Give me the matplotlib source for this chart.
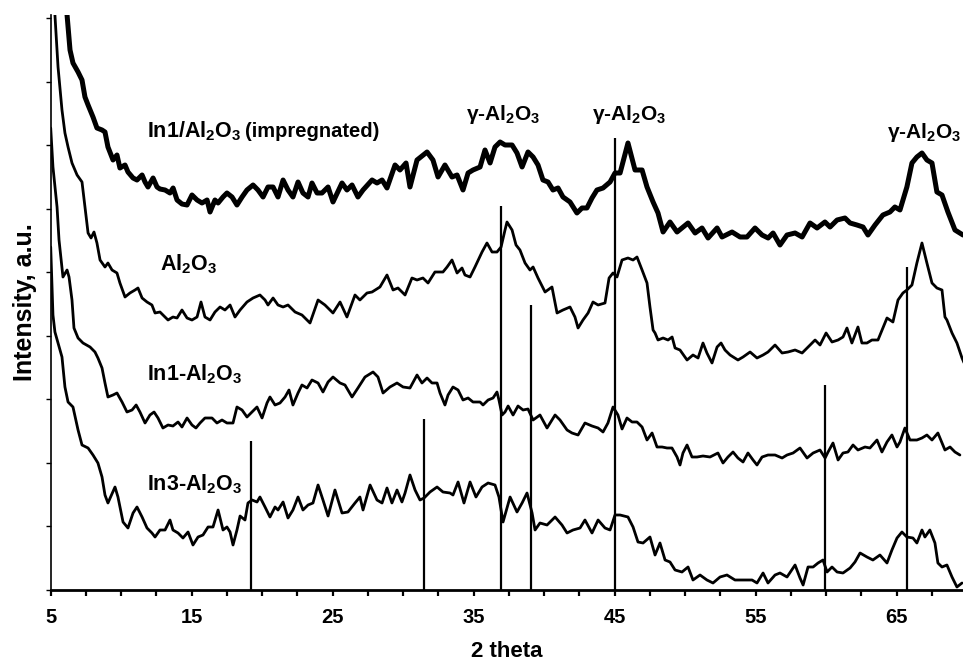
import numpy as np
import matplotlib
matplotlib.use("Agg")
import matplotlib.pyplot as plt

plt.rcParams['font.family'] = ['Liberation Sans', 'DejaVu Sans']
plt.rcParams['font.weight'] = 'bold'
plt.rcParams['mathtext.fontset'] = 'custom'
plt.rcParams['mathtext.rm'] = 'Liberation Sans:bold'
plt.rcParams['mathtext.bf'] = 'Liberation Sans:bold'
plt.rcParams['mathtext.it'] = 'Liberation Sans:bold'
plt.rcParams['mathtext.default'] = 'rm'

# XRD patterns, (2 theta, intensity a.u.) with the stacking offsets included
impregnated = [
    (6.00, 650), (6.16, 575), (6.37, 540), (6.58, 527), (6.94, 518), (7.22, 510),
    (7.43, 493), (7.65, 485), (8.00, 473), (8.28, 462), (8.64, 460), (8.85, 458),
    (9.06, 443), (9.42, 430), (9.70, 435), (9.91, 422), (10.27, 425), (10.48, 418),
    (10.84, 412), (11.12, 410), (11.48, 415), (11.69, 408), (11.90, 403), (12.26, 412),
    (12.54, 403), (12.75, 401), (13.11, 400), (13.46, 397), (13.68, 402), (13.96, 390),
    (14.31, 386), (14.67, 385), (15.02, 395), (15.38, 390), (15.73, 387), (16.09, 390),
    (16.30, 378), (16.65, 390), (16.87, 387), (17.22, 393), (17.50, 397), (17.86, 393),
    (18.21, 385), (18.57, 393), (18.92, 400), (19.35, 405), (19.70, 400), (20.06, 393),
    (20.41, 403), (20.77, 403), (21.12, 393), (21.48, 410), (21.83, 400), (22.18, 393),
    (22.54, 408), (22.89, 397), (23.25, 393), (23.53, 407), (23.89, 397), (24.24, 397),
    (24.67, 403), (25.02, 388), (25.66, 407), (26.01, 400), (26.37, 405), (26.79, 393),
    (27.15, 400), (27.79, 410), (28.14, 407), (28.50, 410), (28.85, 402), (29.42, 425),
    (29.77, 420), (30.20, 427), (30.48, 403), (30.98, 430), (31.69, 438), (32.11, 430),
    (32.47, 413), (32.96, 425), (33.46, 413), (33.82, 415), (34.24, 400), (34.60, 417),
    (34.95, 420), (35.45, 423), (35.80, 440), (36.16, 427), (36.51, 443), (36.87, 448),
    (37.22, 445), (37.72, 445), (38.07, 437), (38.43, 423), (38.85, 438), (39.21, 433),
    (39.56, 425), (39.91, 410), (40.27, 408), (40.62, 400), (40.98, 402), (41.33, 393),
    (41.83, 388), (42.32, 377), (42.68, 382), (43.03, 382), (43.39, 392), (43.74, 400),
    (44.17, 402), (44.67, 408), (45.02, 417), (45.38, 417), (45.94, 447), (46.44, 420),
    (46.94, 420), (47.29, 403), (47.72, 388), (48.07, 377), (48.43, 358), (48.92, 368),
    (49.42, 358), (50.20, 367), (50.70, 357), (51.19, 362), (51.62, 352), (52.26, 362),
    (52.61, 353), (53.32, 358), (53.89, 353), (54.38, 353), (54.95, 362), (55.45, 355),
    (55.88, 352), (56.23, 357), (56.72, 345), (57.22, 355), (57.79, 357), (58.29, 353),
    (58.85, 367), (59.35, 362), (59.91, 368), (60.27, 363), (60.77, 370), (61.33, 372),
    (61.69, 367), (62.18, 365), (62.61, 363), (62.96, 355), (63.46, 365), (64.02, 375),
    (64.52, 378), (64.87, 383), (65.23, 380), (65.72, 403), (66.08, 427), (66.43, 433),
    (66.79, 437), (67.14, 430), (67.50, 427), (67.85, 398), (68.21, 395), (68.63, 378),
    (69.13, 360), (69.48, 357), (69.70, 355),
]

alumina = [
    (5.15, 700), (5.30, 575), (5.52, 523), (5.80, 480), (6.01, 457), (6.23, 443),
    (6.51, 427), (6.87, 415), (7.22, 408), (7.43, 383), (7.65, 357), (7.86, 352),
    (8.07, 358), (8.28, 347), (8.50, 330), (8.85, 323), (9.06, 327), (9.35, 320),
    (9.70, 317), (9.91, 307), (10.27, 293), (10.62, 297), (10.98, 300), (11.19, 302),
    (11.48, 292), (11.83, 288), (12.18, 285), (12.40, 277), (12.75, 278), (12.96, 275),
    (13.32, 270), (13.67, 273), (13.96, 272), (14.31, 280), (14.67, 272), (15.02, 270),
    (15.38, 273), (15.66, 288), (15.94, 273), (16.30, 270), (16.65, 278), (17.01, 283),
    (17.36, 280), (17.72, 285), (18.07, 273), (18.43, 280), (18.92, 288), (19.35, 292),
    (19.84, 295), (20.20, 290), (20.41, 285), (20.77, 292), (21.12, 285), (21.48, 283),
    (21.83, 285), (22.33, 278), (22.82, 275), (23.39, 267), (23.96, 290), (24.45, 285),
    (25.02, 277), (25.52, 288), (26.01, 273), (26.58, 295), (26.93, 290), (27.43, 297),
    (27.79, 298), (28.35, 303), (28.85, 315), (29.28, 300), (29.63, 302), (30.13, 295),
    (30.62, 312), (30.98, 310), (31.40, 312), (31.76, 307), (32.25, 318), (32.82, 318),
    (33.11, 323), (33.46, 330), (33.82, 317), (34.17, 322), (34.38, 315), (34.74, 313),
    (35.09, 323), (35.59, 338), (35.94, 347), (36.30, 338), (36.65, 338), (36.94, 343),
    (37.22, 360), (37.36, 368), (37.72, 360), (38.00, 345), (38.28, 340), (38.64, 327),
    (38.99, 320), (39.21, 323), (39.56, 312), (40.06, 298), (40.55, 303), (40.91, 277),
    (41.33, 280), (41.83, 283), (42.18, 273), (42.40, 262), (42.75, 270), (43.11, 277),
    (43.46, 288), (43.82, 285), (44.31, 287), (44.60, 312), (44.88, 317), (45.16, 313),
    (45.52, 330), (45.94, 332), (46.30, 330), (46.58, 333), (46.94, 320), (47.29, 307),
    (47.50, 283), (47.72, 260), (47.86, 257), (48.07, 250), (48.43, 252), (48.78, 250),
    (49.07, 253), (49.28, 242), (49.63, 240), (50.13, 230), (50.55, 235), (50.91, 232),
    (51.26, 247), (51.54, 237), (51.90, 227), (52.26, 243), (52.54, 247), (52.82, 240),
    (53.18, 235), (53.74, 230), (54.10, 233), (54.60, 238), (55.09, 232), (55.52, 235),
    (55.87, 238), (56.37, 245), (56.87, 237), (57.29, 238), (57.79, 240), (58.29, 237),
    (58.71, 243), (59.21, 250), (59.56, 245), (59.99, 257), (60.41, 248), (60.84, 250),
    (61.19, 253), (61.47, 262), (61.82, 247), (62.25, 263), (62.53, 247), (62.89, 247),
    (63.24, 250), (63.67, 250), (64.02, 262), (64.31, 272), (64.73, 268), (65.09, 290),
    (65.44, 297), (65.72, 300), (66.08, 305), (66.43, 327), (66.79, 347), (67.14, 327),
    (67.50, 307), (67.85, 302), (68.21, 300), (68.42, 273), (68.56, 270), (68.92, 257),
    (69.27, 247), (69.63, 232), (69.84, 225),
]

in1 = [
    (5.00, 462), (5.16, 423), (5.45, 383), (5.59, 350), (5.80, 323), (5.87, 313),
    (6.16, 320), (6.30, 313), (6.51, 290), (6.65, 262), (6.94, 252), (7.29, 247),
    (7.79, 243), (8.14, 238), (8.35, 232), (8.64, 222), (8.85, 207), (9.06, 193),
    (9.42, 195), (9.70, 197), (10.06, 188), (10.41, 178), (10.77, 180), (11.06, 185),
    (11.33, 178), (11.69, 167), (12.04, 175), (12.33, 178), (12.61, 172), (12.96, 162),
    (13.32, 165), (13.67, 164), (14.03, 168), (14.31, 163), (14.67, 172), (15.02, 165),
    (15.30, 162), (15.59, 167), (15.94, 172), (16.44, 172), (16.79, 167), (17.15, 170),
    (17.50, 167), (17.93, 167), (18.21, 183), (18.57, 180), (18.92, 173), (19.28, 178),
    (19.63, 183), (19.99, 172), (20.34, 187), (20.55, 193), (20.91, 185), (21.26, 187),
    (21.62, 193), (21.90, 200), (22.18, 185), (22.54, 197), (22.82, 205), (23.18, 202),
    (23.53, 210), (23.96, 207), (24.31, 198), (24.67, 208), (25.02, 213), (25.52, 207),
    (25.87, 205), (26.37, 193), (26.79, 202), (27.29, 213), (27.86, 218), (28.21, 213),
    (28.57, 197), (29.06, 203), (29.56, 207), (29.99, 203), (30.48, 202), (30.98, 215),
    (31.33, 207), (31.69, 212), (32.04, 207), (32.40, 207), (32.61, 197), (32.96, 185),
    (33.18, 195), (33.53, 203), (33.89, 200), (34.24, 190), (34.60, 192), (34.95, 188),
    (35.45, 188), (35.66, 185), (36.02, 190), (36.37, 192), (36.65, 198), (36.79, 190),
    (37.01, 175), (37.22, 178), (37.44, 184), (37.79, 175), (38.14, 184), (38.50, 180),
    (38.85, 181), (39.21, 170), (39.70, 175), (40.20, 162), (40.77, 175), (41.12, 170),
    (41.62, 160), (41.97, 157), (42.40, 155), (42.89, 167), (43.39, 164), (43.82, 162),
    (44.17, 158), (44.52, 167), (44.88, 183), (45.23, 175), (45.52, 161), (45.87, 172),
    (46.23, 168), (46.58, 168), (46.94, 163), (47.29, 150), (47.65, 157), (48.00, 143),
    (48.36, 143), (48.71, 142), (49.06, 142), (49.42, 133), (49.63, 125), (49.84, 137),
    (50.13, 145), (50.48, 133), (50.84, 133), (51.26, 134), (51.76, 133), (52.32, 137),
    (52.68, 127), (53.03, 133), (53.39, 138), (53.74, 132), (54.10, 128), (54.45, 137),
    (54.81, 130), (55.09, 125), (55.45, 133), (55.87, 135), (56.37, 135), (56.87, 132),
    (57.22, 135), (57.65, 137), (58.14, 142), (58.64, 132), (59.07, 137), (59.56, 140),
    (59.92, 132), (60.13, 138), (60.48, 147), (60.84, 130), (61.19, 137), (61.54, 138),
    (61.90, 145), (62.25, 140), (62.75, 143), (63.10, 142), (63.60, 150), (63.95, 138),
    (64.31, 148), (64.66, 155), (65.02, 143), (65.23, 148), (65.58, 162), (65.94, 150),
    (66.43, 150), (66.79, 152), (67.14, 155), (67.50, 150), (67.92, 157), (68.42, 140),
    (68.78, 143), (69.13, 138), (69.48, 135),
]

in3 = [
    (5.00, 343), (5.16, 275), (5.30, 258), (5.52, 247), (5.80, 233), (6.01, 203),
    (6.23, 188), (6.58, 183), (6.94, 160), (7.22, 145), (7.65, 142), (8.00, 135),
    (8.35, 127), (8.64, 113), (8.85, 95), (9.06, 87), (9.56, 103), (9.77, 93),
    (10.13, 68), (10.48, 62), (10.84, 77), (11.12, 83), (11.48, 73), (11.83, 62),
    (12.18, 57), (12.40, 53), (12.75, 60), (13.11, 60), (13.46, 70), (13.67, 60),
    (14.03, 57), (14.38, 52), (14.74, 58), (15.09, 45), (15.45, 53), (15.80, 55),
    (16.16, 63), (16.51, 63), (16.87, 80), (17.22, 60), (17.50, 63), (17.72, 58),
    (17.93, 45), (18.21, 60), (18.43, 74), (18.78, 70), (18.99, 87), (19.28, 90),
    (19.63, 88), (19.84, 93), (20.20, 83), (20.55, 73), (20.91, 83), (21.12, 80),
    (21.48, 88), (21.83, 72), (22.18, 80), (22.54, 93), (22.89, 80), (23.25, 85),
    (23.60, 87), (23.96, 105), (24.31, 90), (24.67, 74), (25.16, 100), (25.66, 77),
    (26.08, 78), (26.58, 87), (26.93, 93), (27.15, 80), (27.65, 105), (28.14, 90),
    (28.50, 87), (28.85, 102), (29.20, 87), (29.56, 100), (29.91, 88), (30.13, 97),
    (30.48, 115), (30.84, 100), (31.19, 90), (31.48, 92), (31.90, 98), (32.40, 103),
    (32.82, 98), (33.32, 97), (33.53, 95), (33.89, 108), (34.31, 87), (34.74, 108),
    (35.16, 93), (35.59, 103), (36.02, 107), (36.51, 105), (36.79, 93), (37.08, 68),
    (37.58, 93), (38.07, 78), (38.43, 87), (38.78, 97), (39.14, 77), (39.35, 60),
    (39.70, 67), (40.20, 65), (40.77, 73), (41.26, 65), (41.62, 57), (42.04, 60),
    (42.54, 62), (42.89, 70), (43.39, 57), (43.82, 70), (44.31, 62), (44.67, 60),
    (45.02, 75), (45.38, 75), (45.94, 73), (46.30, 63), (46.65, 48), (47.01, 47),
    (47.50, 53), (47.86, 35), (48.21, 47), (48.57, 30), (48.92, 28), (49.28, 20),
    (49.77, 18), (50.20, 23), (50.55, 10), (51.05, 15), (51.54, 10), (51.97, 7),
    (52.47, 13), (52.96, 15), (53.53, 10), (54.10, 10), (54.74, 10), (55.09, 7),
    (55.52, 17), (55.87, 7), (56.37, 15), (56.72, 17), (57.22, 13), (57.79, 25),
    (58.14, 12), (58.36, 5), (58.71, 23), (59.07, 23), (59.42, 27), (59.77, 30),
    (60.06, 18), (60.41, 23), (60.77, 18), (61.19, 17), (61.69, 22), (62.04, 28),
    (62.40, 37), (62.89, 33), (63.31, 30), (63.81, 35), (64.31, 27), (64.66, 40),
    (65.02, 52), (65.37, 58), (65.72, 53), (66.15, 52), (66.43, 47), (66.79, 60),
    (67.00, 53), (67.35, 60), (67.71, 47), (67.92, 27), (68.21, 23), (68.56, 25),
    (68.92, 13), (69.27, 3), (69.63, 7),
]

# reference stick pattern: position (2 theta) and top of the line
stick_pos = [19.18, 31.47, 36.94, 39.09, 45.00, 59.90, 65.75]
stick_top = [149, 171, 384, 285, 452, 205, 323]

sample_labels = [r'In1-Al$_2$O$_3$', r'In3-Al$_2$O$_3$', r'Al$_2$O$_3$']
sample_label_pos = [(11.83, 210), (11.83, 100), (12.75, 320)]
gamma_label_pos = [(37.08, 470), (46.0, 470), (66.93, 452)]

fig = plt.figure(figsize=(9.63, 6.62), dpi=100)
ax = fig.add_axes([50.7 / 963, 72 / 662, 912.3 / 963, 575 / 662])

for trace, lw in [(in3, 2.0), (in1, 2.0), (alumina, 2.0), (impregnated, 3.6)]:
    x, y = zip(*trace)
    ax.plot(x, y, color='black', lw=lw, solid_joinstyle='round',
            solid_capstyle='round')

ax.vlines(stick_pos, 0, stick_top, color='black', lw=1.6)

# labels
for lab, (lx, ly) in zip(sample_labels, sample_label_pos):
    ax.text(lx, ly, lab, fontsize=15.5, fontweight='bold', ha='left', va='baseline')
ax.text(11.83, 453, r'In1/Al$_2$O$_3$', fontsize=15.5, fontweight='bold',
        ha='left', va='baseline')
ax.text(18.8, 453, '(impregnated)', fontsize=14.5, fontweight='bold',
        ha='left', va='baseline')
for gx, gy in gamma_label_pos:
    ax.text(gx, gy, r'γ-Al$_2$O$_3$', fontsize=15, fontweight='bold',
            ha='center', va='baseline')

ax.set_xlim(5, 69.7)
ax.set_ylim(0, 575)

ticks = np.arange(5, 70, 2.5)
ax.set_xticks(ticks)
ax.set_xticklabels([f'{t:g}' if (t - 5) % 10 == 0 else '' for t in ticks])
ax.set_yticks(np.linspace(0, 572, 10))
ax.set_yticklabels([])
ax.tick_params(axis='x', direction='out', length=4.5, width=1.6, pad=8.5,
               labelsize=14.5)
ax.tick_params(axis='y', direction='out', length=3.5, width=1.0)

ax.spines['top'].set_visible(False)
ax.spines['right'].set_visible(False)
ax.spines['bottom'].set_linewidth(2.0)
ax.spines['left'].set_linewidth(1.2)

ax.set_xlabel('2 theta', fontsize=16, fontweight='bold', labelpad=10)
ax.set_ylabel('Intensity, a.u.', fontsize=18, fontweight='bold', labelpad=3)

fig.savefig('out.png', dpi=100)
